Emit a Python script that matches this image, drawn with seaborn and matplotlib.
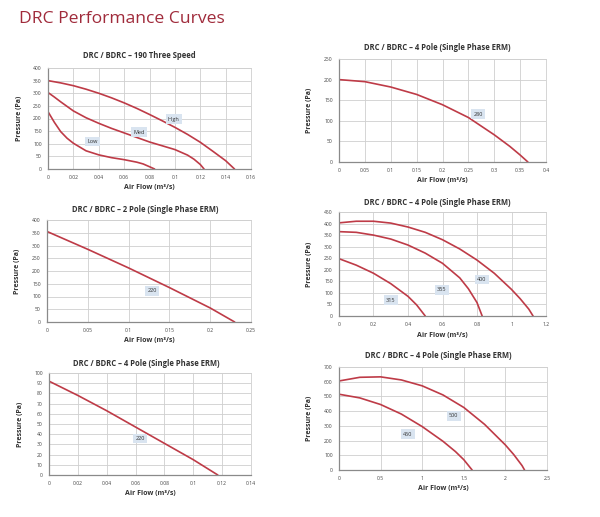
import numpy as np
import pandas as pd
import matplotlib
matplotlib.use("Agg")
import matplotlib.pyplot as plt
import seaborn as sns
from matplotlib.ticker import FuncFormatter, MultipleLocator

# ---- data ----
# 190 Three Speed
high_x = [0, 0.01, 0.02, 0.03, 0.04, 0.05, 0.06, 0.07, 0.08, 0.09, 0.10, 0.11, 0.12, 0.13, 0.14, 0.147]
high_y = [350, 341, 330, 316, 300, 282, 262, 240, 216, 191, 165, 137, 106, 70, 33, 0]
med_x = [0, 0.005, 0.01, 0.015, 0.02, 0.03, 0.04, 0.05, 0.06, 0.07, 0.08, 0.09, 0.10, 0.11, 0.115, 0.12, 0.123]
med_y = [303, 285, 266, 248, 230, 203, 181, 161, 143, 125, 107, 92, 77, 55, 39, 18, 0]
low_x = [0, 0.005, 0.01, 0.015, 0.02, 0.03, 0.04, 0.05, 0.06, 0.07, 0.075, 0.08, 0.084]
low_y = [227, 185, 148, 122, 102, 72, 56, 45, 37, 27, 20, 9, 0]

# 4 Pole 280
p280_x = [0, 0.05, 0.1, 0.15, 0.2, 0.25, 0.3, 0.33, 0.35, 0.365]
p280_y = [200, 195, 182, 164, 139, 108, 66, 38, 17, 0]

# 2 Pole 220
p2_220_x = [0, 0.05, 0.1, 0.15, 0.2, 0.23]
p2_220_y = [355, 285, 212, 135, 55, 0]

# 4 Pole 315 / 355 / 400
p400_x = [0, 0.1, 0.2, 0.3, 0.4, 0.5, 0.6, 0.7, 0.8, 0.9, 1.0, 1.05, 1.1, 1.125]
p400_y = [403, 410, 410, 402, 385, 362, 330, 290, 242, 185, 115, 75, 30, 0]
p355_x = [0, 0.1, 0.2, 0.3, 0.4, 0.5, 0.6, 0.7, 0.75, 0.8, 0.83]
p355_y = [365, 362, 350, 333, 307, 272, 228, 165, 118, 58, 0]
p315_x = [0, 0.1, 0.2, 0.3, 0.4, 0.45, 0.5]
p315_y = [248, 220, 185, 140, 85, 48, 0]

# 4 Pole 220
p4_220_x = [0, 0.02, 0.04, 0.06, 0.08, 0.1, 0.117]
p4_220_y = [92, 78, 63, 47, 31, 15, 0]

# 4 Pole 450 / 500
p500_x = [0, 0.25, 0.5, 0.75, 1.0, 1.25, 1.5, 1.75, 2.0, 2.1, 2.2, 2.23]
p500_y = [605, 630, 633, 612, 572, 510, 425, 310, 170, 105, 30, 0]
p450_x = [0, 0.25, 0.5, 0.75, 1.0, 1.25, 1.4, 1.5, 1.6]
p450_y = [515, 490, 445, 380, 295, 195, 125, 70, 0]

titles = [
    "DRC / BDRC \u2013 190 Three Speed",
    "DRC / BDRC \u2013 4 Pole (Single Phase ERM)",
    "DRC / BDRC \u2013 2 Pole (Single Phase ERM)",
    "DRC / BDRC \u2013 4 Pole (Single Phase ERM)",
    "DRC / BDRC \u2013 4 Pole (Single Phase ERM)",
    "DRC / BDRC \u2013 4 Pole (Single Phase ERM)",
]

sns.set_theme(style="whitegrid")
plt.rcParams['font.family'] = ['Open Sans', 'DejaVu Sans']

W, H = 600, 517
fig = plt.figure(figsize=(6, 5.17), dpi=100)
fig.patch.set_facecolor("white")

RED = "#be3b47"
GRID = "#cfcfcf"
BOX = "#d9e4f0"


def px_axes(l, r, t, b):
    return fig.add_axes([l / W, 1 - b / H, (r - l) / W, (b - t) / H])


def fmt(v, pos):
    return "%g" % round(v, 4)


def setup(ax, xmax, xstep, ymax, ystep, title, tx, ty):
    ax.set_xlim(0, xmax)
    ax.set_ylim(0, ymax)
    ax.xaxis.set_major_locator(MultipleLocator(xstep))
    ax.yaxis.set_major_locator(MultipleLocator(ystep))
    ax.xaxis.set_major_formatter(FuncFormatter(fmt))
    ax.yaxis.set_major_formatter(FuncFormatter(fmt))
    ax.set_facecolor("white")
    ax.grid(True, color=GRID, linewidth=0.6)
    for s in ["top", "right"]:
        ax.spines[s].set_color(GRID)
        ax.spines[s].set_linewidth(0.6)
    for s in ["left", "bottom"]:
        ax.spines[s].set_color("#8a8a8a")
        ax.spines[s].set_linewidth(0.9)
    ax.tick_params(axis="both", labelsize=3.6, colors="#444444", length=1.5, width=0.5, pad=3)
    ax.set_xlabel("Air Flow (m\u00b3/s)", fontsize=5, fontweight="bold", color="#333333")
    ax.set_ylabel("Pressure (Pa)", fontsize=5, fontweight="bold", color="#333333")
    ax.xaxis.set_label_coords(0.5, -0.15)
    ax.yaxis.set_label_coords(-0.125, 0.5)
    fig.text(tx / W, 1 - ty / H, title, ha="center", va="center",
             fontsize=5.5, fontweight="bold", color="#333333")


def curve(ax, xs, ys):
    sns.lineplot(x=xs, y=ys, ax=ax, color=RED, linewidth=1.2, sort=False)


def tag(ax, x, y, s):
    ax.text(x, y, s, fontsize=4, color="#333333", ha="center", va="center",
            bbox=dict(boxstyle="square,pad=0.4", fc=BOX, ec="none"))


fig.text(19 / W, 1 - 19 / H, "DRC Performance Curves", fontsize=12.6,
         color="#a02b3b", ha="left", va="center")

ax1 = px_axes(48, 251, 68, 169)
setup(ax1, 0.16, 0.02, 400, 50, titles[0], 139, 55)
curve(ax1, high_x, high_y)
curve(ax1, med_x, med_y)
curve(ax1, low_x, low_y)
tag(ax1, 0.099, 198, "High")
tag(ax1, 0.0715, 146, "Med")
tag(ax1, 0.035, 109, "Low")

ax2 = px_axes(339, 546, 59, 162)
setup(ax2, 0.4, 0.05, 250, 50, titles[1], 437, 47)
curve(ax2, p280_x, p280_y)
tag(ax2, 0.269, 116, "280")

ax3 = px_axes(47, 251, 220, 322)
setup(ax3, 0.25, 0.05, 400, 50, titles[2], 145, 209)
curve(ax3, p2_220_x, p2_220_y)
tag(ax3, 0.129, 122, "220")

ax4 = px_axes(339, 546, 212, 316)
setup(ax4, 1.2, 0.2, 450, 50, titles[3], 437, 202)
curve(ax4, p400_x, p400_y)
curve(ax4, p355_x, p355_y)
curve(ax4, p315_x, p315_y)
tag(ax4, 0.828, 159, "400")
tag(ax4, 0.596, 113, "355")
tag(ax4, 0.30, 69, "315")

ax5 = px_axes(49, 251, 373, 475)
setup(ax5, 0.14, 0.02, 100, 10, titles[4], 146, 363)
curve(ax5, p4_220_x, p4_220_y)
tag(ax5, 0.063, 36, "220")

ax6 = px_axes(339, 547, 367, 470)
setup(ax6, 2.5, 0.5, 700, 100, titles[5], 438, 355)
curve(ax6, p500_x, p500_y)
curve(ax6, p450_x, p450_y)
tag(ax6, 1.38, 368, "500")
tag(ax6, 0.83, 244, "450")

fig.savefig("out.png", dpi=100, facecolor="white")
